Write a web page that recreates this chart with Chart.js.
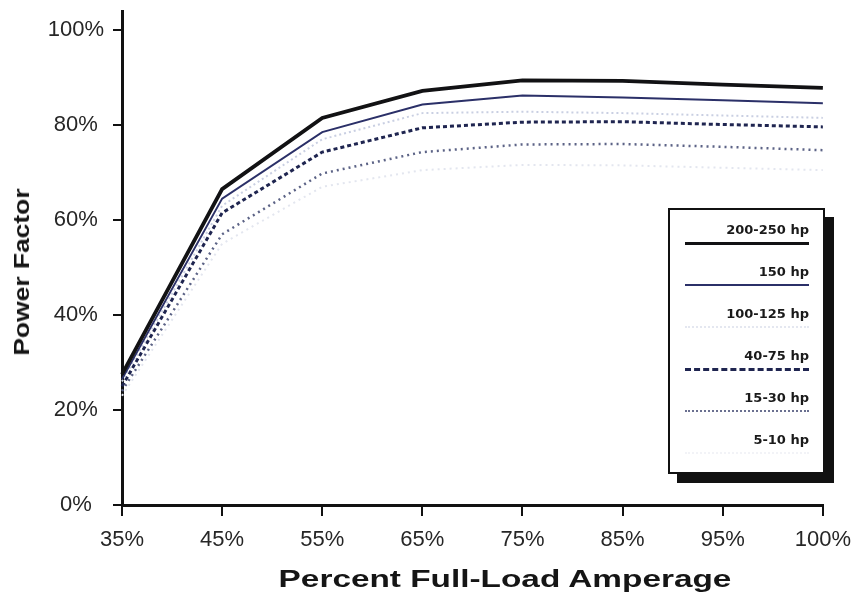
<!DOCTYPE html>
<html>
<head>
<meta charset="utf-8">
<script src="https://cdn.jsdelivr.net/npm/chart.js@4/dist/chart.umd.min.js"></script>
<style>
  html, body { margin: 0; padding: 0; background: #fff; }
  #wrap { position: relative; width: 862px; height: 600px; overflow: hidden; }
  #chart { position: absolute; left: 0; top: 0; }
  .axis-title {
    position: absolute; white-space: nowrap; color: #151515;
    font-family: "Liberation Sans", Arial, sans-serif; font-weight: bold; font-size: 23px; line-height: 24px;
  }
  #xtitle { left: 505px; top: 567px; transform: translateX(-50%) scaleX(1.45); }
  #ytitle { left: 22px; top: 272px; font-size: 22px; transform: translate(-50%, -50%) rotate(-90deg) scaleX(1.2); }
  #legend {
    position: absolute; left: 668px; top: 208px; width: 153px; height: 262px;
    border: 2px solid #111; background: #fff; box-shadow: 9px 9px 0 #111;
    font-family: "DejaVu Sans", sans-serif; font-weight: bold; font-size: 13px; color: #1a1a1a;
  }
  .item { position: absolute; left: 0; width: 153px; height: 40px; }
  .item .lbl { position: absolute; right: 14px; top: 0; line-height: 16px; white-space: nowrap; }
  .item .smp { position: absolute; left: 15px; right: 14px; top: 20px; height: 0; }
</style>
</head>
<body>
<div id="wrap">
  <canvas id="chart" width="862" height="600"></canvas>
  <div id="legend"></div>
  <div class="axis-title" id="xtitle">Percent Full-Load Amperage</div>
  <div class="axis-title" id="ytitle">Power Factor</div>
</div>
<script>
// Percent of full-load amperage
const loadLabels = ['35%', '45%', '55%', '65%', '75%', '85%', '95%', '100%'];

// Power factor (%) by motor size
const hp200to250 = [27.5, 66.5, 81.5, 87.2, 89.4, 89.3, 88.5, 87.8];
const hp150      = [26.5, 64.5, 78.5, 84.3, 86.2, 85.8, 85.2, 84.6];
const hp100to125 = [26.0, 63.0, 77.0, 82.5, 82.8, 82.5, 82.0, 81.5];
const hp40to75   = [25.0, 61.5, 74.3, 79.4, 80.6, 80.7, 80.1, 79.6];
const hp15to30   = [24.0, 57.0, 69.8, 74.3, 75.9, 76.0, 75.4, 74.7];
const hp5to10    = [23.0, 55.0, 67.0, 70.5, 71.6, 71.5, 71.0, 70.5];

// Power factor axis ticks
const pfTicks = [0, 20, 40, 60, 80, 100];

const seriesNames = ['200-250 hp', '150 hp', '100-125 hp', '40-75 hp', '15-30 hp', '5-10 hp'];
const seriesData = [hp200to250, hp150, hp100to125, hp40to75, hp15to30, hp5to10];

const styles = [
  { color: '#121214', width: 3.8, dash: [],     css: '3px solid #121214' },
  { color: '#2b3068', width: 2,   dash: [],     css: '2px solid #2b3068' },
  { color: '#c9cfe2', width: 2,   dash: [2, 3], css: '2px dotted #e4e7f0' },
  { color: '#1f2550', width: 3,   dash: [4, 3], css: '3px dashed #1f2550' },
  { color: '#5c6386', width: 2.5, dash: [2, 4], css: '2px dotted #6a7090' },
  { color: '#e3e6ef', width: 2,   dash: [2, 4], css: '2px dotted #f2f3f7' }
];

const datasets = seriesNames.map((name, i) => ({
  label: name,
  data: seriesData[i],
  borderColor: styles[i].color,
  borderWidth: styles[i].width,
  borderDash: styles[i].dash,
  pointRadius: 0,
  tension: 0,
  fill: false,
  order: i
}));

// Legend panel with right-aligned labels and line samples
const legend = document.getElementById('legend');
seriesNames.forEach((name, i) => {
  const item = document.createElement('div');
  item.className = 'item';
  item.style.top = (12 + i * 42) + 'px';
  const lbl = document.createElement('div');
  lbl.className = 'lbl';
  lbl.textContent = name;
  const smp = document.createElement('div');
  smp.className = 'smp';
  smp.style.borderTop = styles[i].css;
  item.appendChild(lbl);
  item.appendChild(smp);
  legend.appendChild(item);
});

const tickFont = { family: '"Liberation Sans", Arial, sans-serif', size: 22 };

new Chart(document.getElementById('chart'), {
  type: 'line',
  data: { labels: loadLabels, datasets },
  options: {
    responsive: false,
    animation: false,
    layout: { padding: { left: 6, right: 39, top: 11, bottom: 4 } },
    plugins: { legend: { display: false }, tooltip: { enabled: false } },
    scales: {
      x: {
        offset: false,
        grid: { drawOnChartArea: false, color: '#111', lineWidth: 2, tickLength: 11 },
        border: { color: '#111', width: 3 },
        ticks: { color: '#262626', font: tickFont, padding: 11, maxRotation: 0, autoSkip: false },
        afterFit: (s) => { s.height = 600 - 505 - 4; }
      },
      y: {
        min: 0, max: 104,
        grid: { drawOnChartArea: false, color: '#111', lineWidth: 2, tickLength: 9 },
        border: { color: '#111', width: 3 },
        ticks: { color: '#262626', font: tickFont, padding: 9, crossAlign: 'center', callback: (v) => v + '%' },
        afterBuildTicks: (s) => { s.ticks = pfTicks.map(v => ({ value: v })); },
        afterFit: (s) => { s.width = 122 - 6; s.paddingTop = 0; s.paddingBottom = 0; }
      }
    }
  }
});
</script>
</body>
</html>
